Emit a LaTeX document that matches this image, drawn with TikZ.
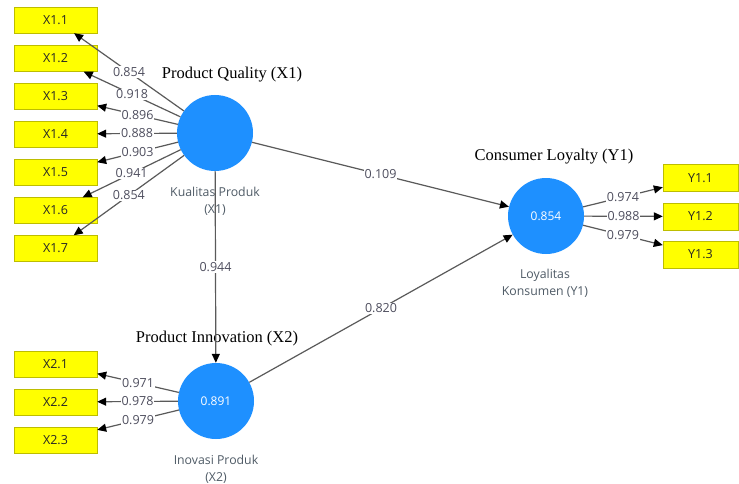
\documentclass[tikz,border=0pt]{standalone}
\usepackage{fontspec}
\setmainfont{Open Sans}
\newfontfamily\titlefont{Liberation Serif}
\usetikzlibrary{arrows.meta}
\definecolor{boxfill}{HTML}{FFFF00}
\definecolor{boxline}{HTML}{BDBD00}
\definecolor{lvblue}{HTML}{1E90FF}
\definecolor{edgegray}{HTML}{5A5A5A}
\definecolor{lblgray}{HTML}{4E4E5E}
\definecolor{capgray}{HTML}{4F5B66}
\begin{document}
\begin{tikzpicture}[x=1pt,y=-1pt,
  ind/.style={draw=boxline, fill=boxfill, minimum width=83pt, minimum height=26pt, inner sep=0pt, text=black!85, font=\fontsize{12.5}{14}\selectfont},
  indy/.style={ind, minimum width=75pt, minimum height=27pt},
  lvn/.style={circle, fill=lvblue, minimum size=76pt, inner sep=0pt, text=white, font=\fontsize{12}{14}\selectfont},
  conn/.style={draw=edgegray, line width=1.2pt, -{Triangle[length=9pt,width=8pt,color=black]}},
  wlab/.style={fill=white, inner sep=1pt, text=lblgray, font=\fontsize{12.5}{14}\selectfont},
  ttl/.style={font=\titlefont\fontsize{16.5}{18}\selectfont, text=black},
  lvcaption/.style={align=center, text=capgray, font=\fontsize{12.3}{17}\selectfont}
]
\useasboundingbox (0,0) rectangle (739,484);
\fill[white] (0,0) rectangle (739,484);

% indicator boxes
\node[ind] (x11) at (55.5,20) {X1.1};
\node[ind] (x12) at (55.5,58.5) {X1.2};
\node[ind] (x13) at (55.5,96) {X1.3};
\node[ind] (x14) at (55.5,134) {X1.4};
\node[ind] (x15) at (55.5,172.5) {X1.5};
\node[ind] (x16) at (55.5,210.5) {X1.6};
\node[ind] (x17) at (55.5,248.5) {X1.7};
\node[ind] (x21) at (55.5,364) {X2.1};
\node[ind] (x22) at (55.5,402) {X2.2};
\node[ind] (x23) at (55.5,440) {X2.3};
\node[indy] (y11) at (700.5,178) {Y1.1};
\node[indy] (y12) at (700.5,216.5) {Y1.2};
\node[indy] (y13) at (700.5,254.5) {Y1.3};

% latent variables
\node[lvn] (X1) at (215,133) {};
\node[lvn] (X2) at (216,401) {0.891};
\node[lvn] (Y1) at (546,216) {0.854};

% titles and captions
\node[ttl] (tX1) at (232,75) {Product Quality (X1)};
\node[ttl] (tX2) at (217,339) {Product Innovation (X2)};
\node[ttl] (tY1) at (554,157) {Consumer Loyalty (Y1)};
\node[lvcaption] (cX1) at (215,201) {Kualitas Produk\\(X1)};
\node[lvcaption] (cX2) at (216,469) {Inovasi Produk\\(X2)};
\node[lvcaption] (cY1) at (545,283) {Loyalitas\\Konsumen (Y1)};

% outer loadings
\draw[conn] (X1) -- node[wlab]{0.854} (x11);
\draw[conn] (X1) -- node[wlab]{0.918} (x12);
\draw[conn] (X1) -- node[wlab]{0.896} (x13);
\draw[conn] (X1) -- node[wlab]{0.888} (x14);
\draw[conn] (X1) -- node[wlab]{0.903} (x15);
\draw[conn] (X1) -- node[wlab]{0.941} (x16);
\draw[conn] (X1) -- node[wlab]{0.854} (x17);
\draw[conn] (X2) -- node[wlab]{0.971} (x21);
\draw[conn] (X2) -- node[wlab]{0.978} (x22);
\draw[conn] (X2) -- node[wlab]{0.979} (x23);
\draw[conn] (Y1) -- node[wlab]{0.974} (y11);
\draw[conn] (Y1) -- node[wlab]{0.988} (y12);
\draw[conn] (Y1) -- node[wlab]{0.979} (y13);

% structural paths
\draw[conn] (X1) -- node[wlab]{0.944} (X2);
\draw[conn] (X1) -- node[wlab]{0.109} (Y1);
\draw[conn] (X2) -- node[wlab]{0.820} (Y1);
\end{tikzpicture}
\end{document}
